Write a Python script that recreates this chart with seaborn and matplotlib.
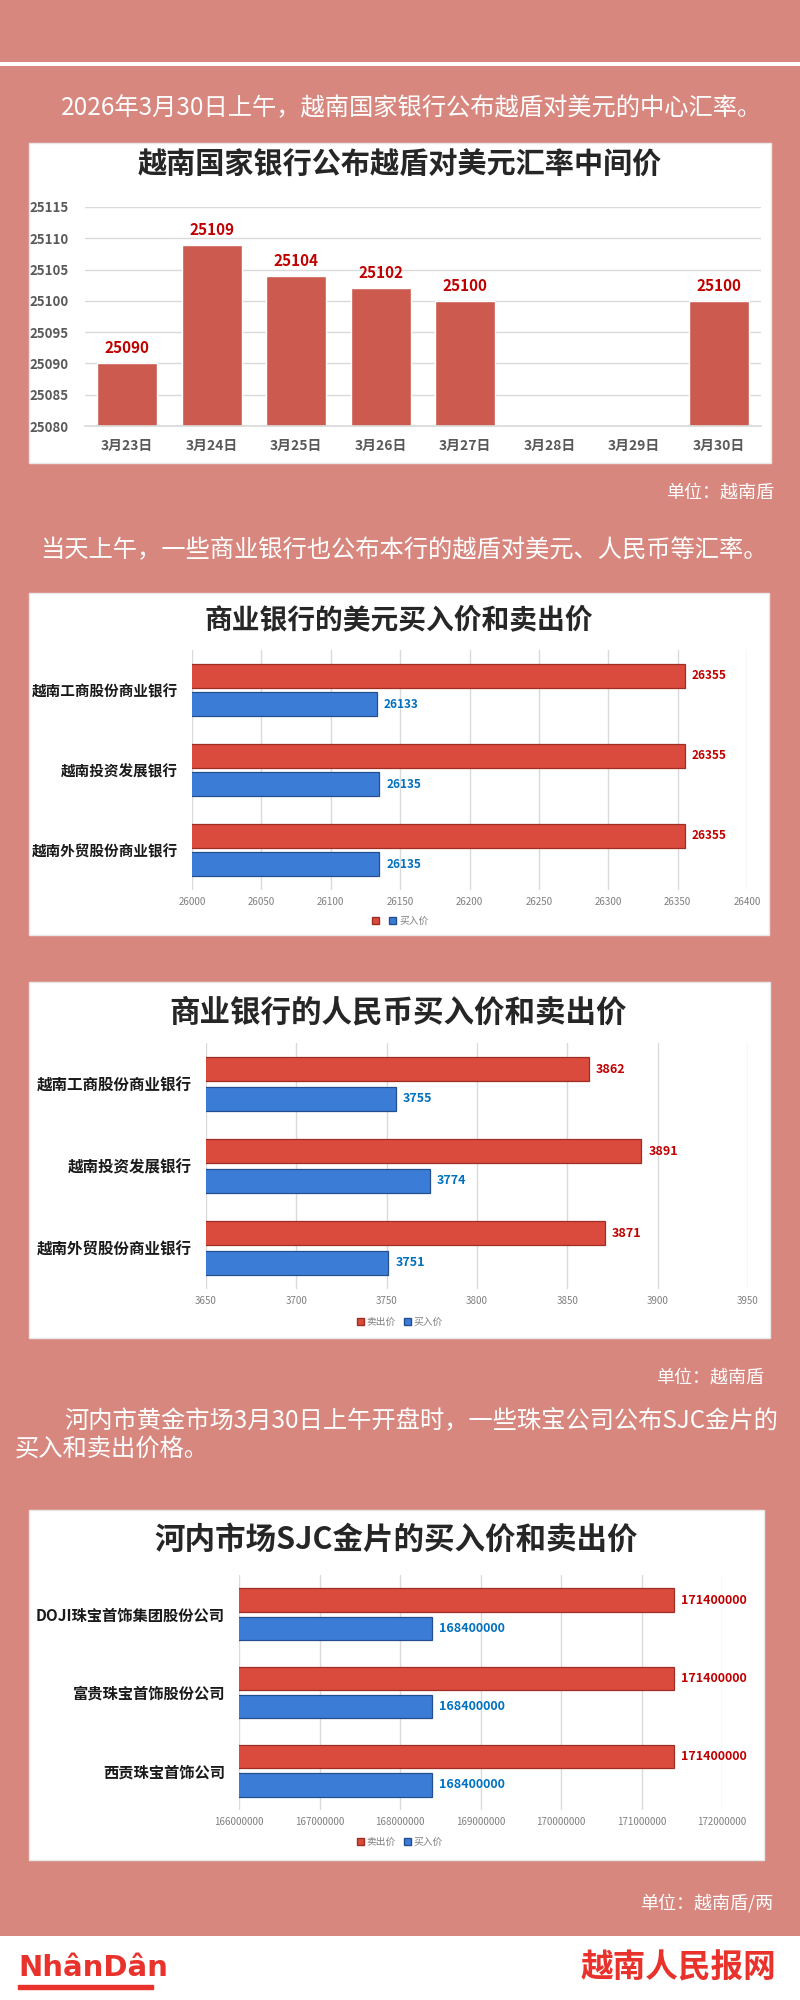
import pandas as pd
import matplotlib.pyplot as plt
import seaborn as sns
from matplotlib.patches import Rectangle

# ---- data ----
dates = ["3月23日", "3月24日", "3月25日", "3月26日", "3月27日", "3月28日", "3月29日", "3月30日"]
rates = [25090, 25109, 25104, 25102, 25100, None, None, 25100]

banks = ["越南工商股份商业银行", "越南投资发展银行", "越南外贸股份商业银行"]
usd_sell = [26355, 26355, 26355]
usd_buy = [26133, 26135, 26135]
cny_sell = [3862, 3891, 3871]
cny_buy = [3755, 3774, 3751]

firms = ["DOJI珠宝首饰集团股份公司", "富贵珠宝首饰股份公司", "西贡珠宝首饰公司"]
gold_sell = [171400000, 171400000, 171400000]
gold_buy = [168400000, 168400000, 168400000]

types = ["卖出价", "买入价"]

# ---- style ----
sns.set_theme(style="white")
plt.rcParams['font.family'] = ['Noto Sans CJK SC', 'DejaVu Sans']

BG = "#D8877F"
BAR = "#CC5A4F"
RED = "#DA4B3E"
BLUE = "#3B7DD6"
RED_TXT = "#C00000"
BLUE_TXT = "#0070C0"
GRID = "#DADADA"
W, H = 800, 2000

fig = plt.figure(figsize=(8, 20), dpi=100)
fig.patch.set_facecolor(BG)


def rect(x0, y0, x1, y1):
    return [x0 / W, 1 - y1 / H, (x1 - x0) / W, (y1 - y0) / H]


def panel(x0, y0, x1, y1, color="white", edge="#E8E8E8"):
    fig.add_artist(Rectangle((x0 / W, 1 - y1 / H), (x1 - x0) / W, (y1 - y0) / H,
                             transform=fig.transFigure, facecolor=color,
                             edgecolor=edge, linewidth=1, zorder=-5))


def ftext(x, y, s, **kw):
    fig.text(x / W, 1 - y / H, s, va="center", **kw)


# background pieces
panel(0, 62, 800, 66, edge="none")
panel(0, 1936, 800, 2000, edge="none")

# ---- texts ----
ftext(412, 108, "2026年3月30日上午，越南国家银行公布越盾对美元的中心汇率。",
      ha="center", color="white", fontsize=17.5)
ftext(774, 493, "单位：越南盾", ha="right", color="white", fontsize=13)
ftext(404, 550, "当天上午，一些商业银行也公布本行的越盾对美元、人民币等汇率。",
      ha="center", color="white", fontsize=17.5)
ftext(764, 1378, "单位：越南盾", ha="right", color="white", fontsize=13)
ftext(64, 1420, "河内市黄金市场3月30日上午开盘时，一些珠宝公司公布SJC金片的",
      ha="left", color="white", fontsize=17.5)
ftext(15, 1449, "买入和卖出价格。", ha="left", color="white", fontsize=17.5)
ftext(773, 1903, "单位：越南盾/两", ha="right", color="white", fontsize=13)

# footer
ftext(18, 1968, "NhânDân", ha="left", color="#E8322B", fontsize=21,
      fontweight="bold", family="DejaVu Sans")
fig.add_artist(Rectangle((18 / W, 1 - 1989 / H), 135 / W, 4 / H,
                         transform=fig.transFigure, color="#E8322B"))
ftext(776, 1968, "越南人民报网", ha="right", color="#E8322B", fontsize=23.5,
      fontweight="bold")

# ---- chart 1: central rate ----
panel(29, 143, 771, 463)
ftext(400, 165, "越南国家银行公布越盾对美元汇率中间价", ha="center",
      color="#262626", fontsize=21, fontweight="bold")

df1 = pd.DataFrame({"日期": dates, "汇率": rates}).dropna()
ax1 = fig.add_axes(rect(85, 207, 761, 426))
sns.barplot(data=df1, x="日期", y="汇率", order=dates, color=BAR, saturation=1,
            width=0.71, ax=ax1)
ax1.set_ylim(25080, 25115)
ax1.set_yticks(range(25080, 25116, 5))
ax1.set_facecolor("none")
ax1.grid(axis="y", color=GRID, linewidth=1)
ax1.set_axisbelow(True)
for s in ["top", "right", "left"]:
    ax1.spines[s].set_visible(False)
ax1.spines["bottom"].set_color(GRID)
ax1.set_xlabel("")
ax1.set_ylabel("")
ax1.tick_params(axis="x", length=0, pad=9, labelsize=10, labelcolor="#595959")
ax1.tick_params(axis="y", length=0, pad=12, labelsize=9.5, labelcolor="#595959")
for lab in ax1.get_xticklabels() + ax1.get_yticklabels():
    lab.set_fontweight("bold")
ax1.bar_label(ax1.containers[0], fmt="{:.0f}", padding=5, color=RED_TXT,
              fontsize=11, fontweight="bold")


# ---- horizontal bar charts ----
def hbar(ax, cats, sell, buy, ticks, label_size, cat_size, legend_y, sell_name="卖出价"):
    df = pd.DataFrame({"名称": cats * 2, "价格": sell + buy,
                       "类型": [types[0]] * len(cats) + [types[1]] * len(cats)})
    sns.barplot(data=df, y="名称", x="价格", hue="类型", hue_order=types,
                palette=[RED, BLUE], orient="h", width=0.72, gap=0.17,
                saturation=1, linewidth=0.9, legend=False, ax=ax)
    for p in ax.containers[0]:
        p.set_edgecolor("#9E2E24")
    for p in ax.containers[1]:
        p.set_edgecolor("#244F8F")
    ax.bar_label(ax.containers[0], fmt="{:.0f}", padding=5, color=RED_TXT,
                 fontsize=label_size, fontweight="bold")
    ax.bar_label(ax.containers[1], fmt="{:.0f}", padding=5, color=BLUE_TXT,
                 fontsize=label_size, fontweight="bold")
    ax.set_xlim(ticks[0], ticks[-1])
    ax.set_ylim(len(cats) - 0.5, -0.5)
    ax.set_xticks(ticks)
    ax.set_xticklabels([str(t) for t in ticks])
    ax.set_facecolor("none")
    ax.grid(axis="x", color=GRID, linewidth=1)
    ax.set_axisbelow(True)
    for s in ax.spines.values():
        s.set_visible(False)
    ax.set_xlabel("")
    ax.set_ylabel("")
    ax.tick_params(axis="x", length=0, pad=5, labelsize=7, labelcolor="#7F7F7F")
    ax.tick_params(axis="y", length=0, pad=10, labelsize=cat_size, labelcolor="#1A1A1A")
    for lab in ax.get_yticklabels():
        lab.set_fontweight("bold")
    handles = [Rectangle((0, 0), 1, 1, facecolor=RED, edgecolor="#9E2E24"),
               Rectangle((0, 0), 1, 1, facecolor=BLUE, edgecolor="#244F8F")]
    ax.legend(handles, [sell_name, types[1]], loc="center", ncol=2,
              bbox_to_anchor=(400 / W, 1 - legend_y / H),
              bbox_transform=fig.transFigure, frameon=False, fontsize=7,
              handlelength=0.7, handleheight=0.7, handletextpad=0.3,
              columnspacing=0.8, labelcolor="#7F7F7F")


# chart 2: USD
panel(29, 593, 769, 935)
ftext(399, 620, "商业银行的美元买入价和卖出价", ha="center", color="#262626",
      fontsize=20, fontweight="bold")
ax2 = fig.add_axes(rect(192, 650, 747, 890))
hbar(ax2, banks, usd_sell, usd_buy, list(range(26000, 26401, 50)), 8.5, 10.5, 921,
     sell_name="")

# chart 3: CNY
panel(29, 982, 770, 1338)
ftext(398, 1012, "商业银行的人民币买入价和卖出价", ha="center", color="#262626",
      fontsize=22, fontweight="bold")
ax3 = fig.add_axes(rect(206, 1043, 748, 1289))
hbar(ax3, banks, cny_sell, cny_buy, list(range(3650, 3951, 50)), 9, 11.2, 1322)

# chart 4: gold
panel(29, 1510, 764, 1860)
ftext(396, 1540, "河内市场SJC金片的买入价和卖出价", ha="center", color="#262626",
      fontsize=22, fontweight="bold")
ax4 = fig.add_axes(rect(239, 1575, 722, 1810))
hbar(ax4, firms, gold_sell, gold_buy, list(range(166000000, 172000001, 1000000)),
     9, 11, 1842)

fig.savefig("out.png", dpi=100, facecolor=fig.get_facecolor())
